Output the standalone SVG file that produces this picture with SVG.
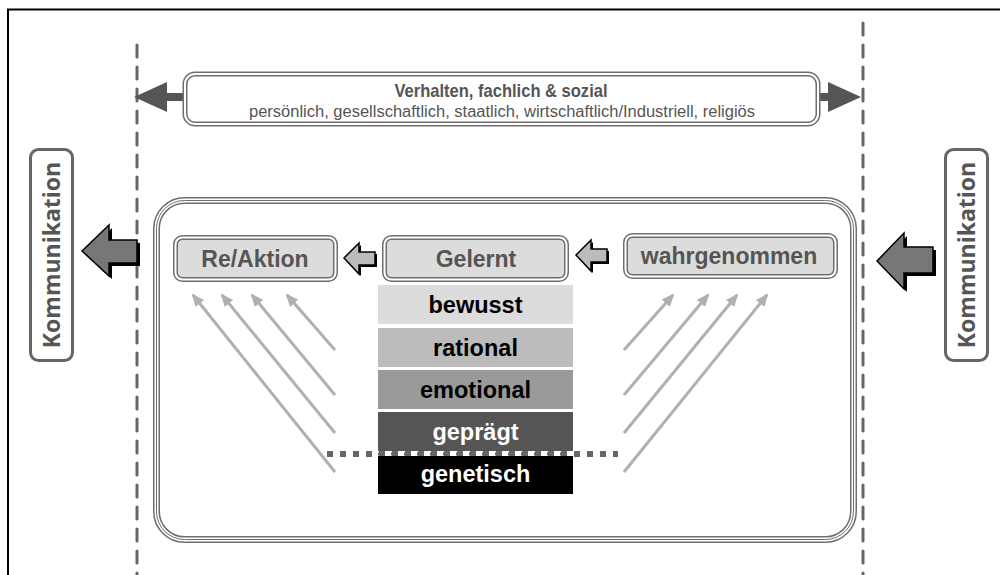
<svg xmlns="http://www.w3.org/2000/svg" width="1000" height="575" viewBox="0 0 1000 575">
<defs>
<style>
.frame{fill:none;stroke:#000;stroke-width:2}
.vdash{fill:none;stroke:#666;stroke-width:3;stroke-linecap:round;stroke-dasharray:12 10}
.dbl-o{stroke:#6e6e6e;stroke-width:5}
.dbl-i{fill:none;stroke:#fff;stroke-width:2}
.tri-o{fill:none;stroke:#6e6e6e;stroke-width:7}
.tri-w{fill:none;stroke:#fff;stroke-width:4}
.tri-i{fill:none;stroke:#6e6e6e;stroke-width:1}
.node{fill:#dcdcdc}
.nlabel{font-family:"Liberation Sans",Arial,sans-serif;font-weight:bold;font-size:23px;fill:#555;text-anchor:middle}
.slabel{font-family:"Liberation Sans",Arial,sans-serif;font-weight:bold;font-size:23.5px;text-anchor:middle}
.komm{fill:#fff;stroke:#666;stroke-width:3}
.kl{font-family:"Open Sans","Liberation Sans",sans-serif;font-weight:bold;font-size:23px;fill:#555;text-anchor:middle}
.diag{fill:none;stroke:#b0b0b0;stroke-width:3}
.big{fill:#777;stroke:#000;stroke-width:1.5;stroke-linejoin:miter}
.small{fill:#bbb;stroke:#000;stroke-width:1.5}
.shadow{fill:#000}
</style>
<marker id="ah" markerUnits="userSpaceOnUse" markerWidth="13" markerHeight="11" viewBox="0 0 13 11" refX="11" refY="5.5" orient="auto">
<path d="M0,0 L13,5.5 L0,11 z" fill="#b0b0b0"/>
</marker>
</defs>
<rect width="1000" height="575" fill="#fff"/>
<rect class="frame" x="8" y="9.5" width="1000" height="600"/>

<g id="guides">
<line class="vdash" x1="137" y1="45" x2="137" y2="580"/>
<line class="vdash" x1="863" y1="23" x2="863" y2="580"/>
</g>

<g id="behavior">
<polygon points="134,97 167,82 167,93 828,93 828,82 861,97 828,112 828,101 167,101 167,112" fill="#555"/>
<rect x="185" y="74" width="633" height="50" rx="10" fill="#fff" class="dbl-o"/>
<rect x="185" y="74" width="633" height="50" rx="10" class="dbl-i"/>
<text x="501" y="97" font-family="'Liberation Sans',Arial,sans-serif" font-weight="bold" font-size="19" fill="#555" text-anchor="middle" textLength="213" lengthAdjust="spacingAndGlyphs">Verhalten, fachlich &amp; sozial</text>
<text x="502" y="117" font-family="'Liberation Sans',Arial,sans-serif" font-size="16" fill="#555" text-anchor="middle" textLength="506" lengthAdjust="spacingAndGlyphs">persönlich, gesellschaftlich, staatlich, wirtschaftlich/Industriell, religiös</text>
</g>

<g id="container">
<rect class="tri-o" x="156.5" y="200.5" width="697" height="339" rx="28"/>
<rect class="tri-w" x="156.5" y="200.5" width="697" height="339" rx="28"/>
<rect class="tri-i" x="156.5" y="200.5" width="697" height="339" rx="28"/>
</g>

<g id="komm-left">
<rect class="komm" x="30.5" y="149.5" width="42" height="211" rx="8"/>
<text class="kl" transform="translate(60,255) rotate(-90)">Kommunikation</text>
</g>
<g id="komm-right">
<rect class="komm" x="945.5" y="149.5" width="42" height="211" rx="8"/>
<text class="kl" transform="translate(975,255) rotate(-90)">Kommunikation</text>
</g>

<g id="node-reaktion">
<rect class="node dbl-o" x="175.5" y="237.5" width="160" height="42" rx="7"/>
<rect class="dbl-i" x="175.5" y="237.5" width="160" height="42" rx="7"/>
<text class="nlabel" x="255" y="267">Re/Aktion</text>
</g>
<g id="node-gelernt">
<rect class="node dbl-o" x="384.5" y="237.5" width="182" height="42" rx="7"/>
<rect class="dbl-i" x="384.5" y="237.5" width="182" height="42" rx="7"/>
<text class="nlabel" x="476" y="267">Gelernt</text>
</g>
<g id="node-wahrgenommen">
<rect class="node dbl-o" x="625.5" y="235.5" width="210" height="41" rx="7"/>
<rect class="dbl-i" x="625.5" y="235.5" width="210" height="41" rx="7"/>
<text class="nlabel" x="729" y="264">wahrgenommen</text>
</g>

<g id="connectors">
<line x1="327" y1="454" x2="618" y2="454" stroke="#666" stroke-width="6" stroke-dasharray="6 7"/>
<line class="diag" x1="335" y1="350" x2="287" y2="295" marker-end="url(#ah)"/>
<line class="diag" x1="335" y1="395" x2="252" y2="295" marker-end="url(#ah)"/>
<line class="diag" x1="335" y1="433" x2="222" y2="295" marker-end="url(#ah)"/>
<line class="diag" x1="335" y1="472" x2="193" y2="295" marker-end="url(#ah)"/>
<line class="diag" x1="624" y1="350" x2="673" y2="295" marker-end="url(#ah)"/>
<line class="diag" x1="624" y1="395" x2="708" y2="295" marker-end="url(#ah)"/>
<line class="diag" x1="624" y1="433" x2="737" y2="295" marker-end="url(#ah)"/>
<line class="diag" x1="624" y1="472" x2="767" y2="295" marker-end="url(#ah)"/>
<polygon class="shadow" transform="translate(3,3)" points="82,251 109,225 109,240 137,240 137,263 109,263 109,276"/>
<polygon class="big" points="82,251 109,225 109,240 137,240 137,263 109,263 109,276"/>
<polygon class="shadow" transform="translate(3,3)" points="877,261 904,233 904,247 933,247 933,273 904,273 904,289"/>
<polygon class="big" points="877,261 904,233 904,247 933,247 933,273 904,273 904,289"/>
<polygon class="shadow" transform="translate(2,2)" points="344,258 359,243 359,252 375,252 375,265 359,265 359,274"/>
<polygon class="small" points="344,258 359,243 359,252 375,252 375,265 359,265 359,274"/>
<polygon class="shadow" transform="translate(2,2)" points="576,255 591,240 591,249 607,249 607,262 591,262 591,271"/>
<polygon class="small" points="576,255 591,240 591,249 607,249 607,262 591,262 591,271"/>
</g>

<g id="layer-bewusst">
<rect x="378" y="285" width="195" height="39" fill="#dcdcdc"/>
<text class="slabel" x="475.5" y="313" fill="#000">bewusst</text>
</g>
<g id="layer-rational">
<rect x="378" y="328" width="195" height="39" fill="#bcbcbc"/>
<text class="slabel" x="475.5" y="356" fill="#000">rational</text>
</g>
<g id="layer-emotional">
<rect x="378" y="370" width="195" height="39" fill="#9a9a9a"/>
<text class="slabel" x="475.5" y="398" fill="#000">emotional</text>
</g>
<g id="layer-gepraegt">
<rect x="378" y="412" width="195" height="39" fill="#555"/>
<text class="slabel" x="475.5" y="440" fill="#fff">geprägt</text>
</g>
<line x1="378" y1="454" x2="573" y2="454" stroke="#666" stroke-width="3" stroke-dasharray="6 7"/>
<g id="layer-genetisch">
<rect x="378" y="456" width="195" height="38" fill="#000"/>
<text class="slabel" x="475.5" y="482" fill="#fff">genetisch</text>
</g>
</svg>
